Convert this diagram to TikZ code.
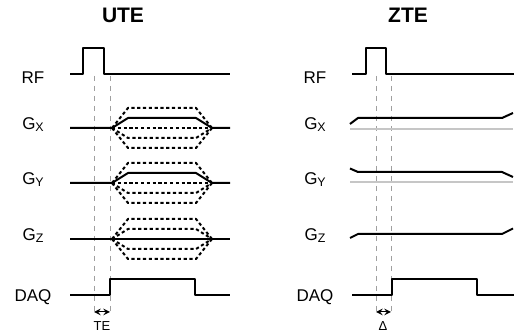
\documentclass[tikz,border=0pt]{standalone}
\usepackage{fontspec}
\setmainfont{Liberation Sans}
\newcommand{\gch}[1]{G\raisebox{-1pt}{\fontsize{6.2}{7}\selectfont #1}}
\begin{document}
\begin{tikzpicture}[x=0.5pt, y=-0.5pt, line join=round, >=stealth,
	wave/.style={line width=1pt},
	alt/.style={line width=1pt, dash pattern=on 1.6pt off 1.3pt},
	guide/.style={gray!75, line width=0.45pt, dash pattern=on 2.5pt off 2.5pt},
	zero/.style={gray!45, line width=0.8pt},
	lbl/.style={font=\fontsize{8.5}{10}\selectfont},
	small/.style={font=\fontsize{6.5}{8}\selectfont},
	ttl/.style={font=\bfseries\fontsize{10.5}{12}\selectfont}]
	\useasboundingbox (0,0) rectangle (520,335);
	% UTE
	\node[ttl] (ute) at (123,15) {UTE};
	\coordinate (u1) at (94,76);
	\coordinate (u2) at (110,76);
	\draw[guide] (u1) -- (94,314);
	\draw[guide] (u2) -- (110,314);
	\node[lbl] (urf) at (33,78) {RF};
	\node[lbl] (ugx) at (33,125) {\gch{X}};
	\node[lbl] (ugy) at (33,180) {\gch{Y}};
	\node[lbl] (ugz) at (33,236) {\gch{Z}};
	\node[lbl] (udaq) at (33,297) {DAQ};
	\draw[wave] (70,74) -- (83,74) -- (83,48) -- (104,48) -- (104,74) -- (230,74);
	\foreach \y in {128,183}{
		\draw[wave] (70,\y) -- (112,\y) -- (128,{\y-10}) -- (196,{\y-10}) -- (212,\y) -- (230,\y);
		\foreach \a in {20,0,-10,-20}
			\draw[alt] (112,\y) -- (128,{\y-\a}) -- (196,{\y-\a}) -- (212,\y);
	}
	\draw[wave] (70,239) -- (230,239);
	\foreach \a in {20,10,-10,-20}
		\draw[alt] (112,239) -- (128,{239-\a}) -- (196,{239-\a}) -- (212,239);
	\draw[wave] (70,295) -- (110,295) -- (110,279) -- (195,279) -- (195,295) -- (230,295);
	\coordinate (ua) at (94,312);
	\coordinate (ub) at (110,312);
	\draw[<->, line width=0.5pt] (ua) -- (ub);
	\node[small] (te) at (102,326) {TE};
	% ZTE
	\node[ttl] (zte) at (408,15) {ZTE};
	\coordinate (z1) at (376,76);
	\coordinate (z2) at (391,76);
	\draw[guide] (z1) -- (376,314);
	\draw[guide] (z2) -- (391,314);
	\node[lbl] (zrf) at (315,78) {RF};
	\node[lbl] (zgx) at (315,125) {\gch{X}};
	\node[lbl] (zgy) at (315,180) {\gch{Y}};
	\node[lbl] (zgz) at (315,236) {\gch{Z}};
	\node[lbl] (zdaq) at (315,297) {DAQ};
	\draw[wave] (352,74) -- (366,74) -- (366,48) -- (386,48) -- (386,74) -- (514,74);
	\draw[zero] (350,129) -- (513,129);
	\draw[zero] (350,182) -- (513,182);
	\draw[wave] (350,124) -- (358,118) -- (502,118) -- (513,113);
	\draw[wave] (350,168.5) -- (358,172) -- (502,172) -- (513,177);
	\draw[wave] (350,238) -- (358,234) -- (502,234) -- (513,228.5);
	\draw[wave] (352,295) -- (392,295) -- (392,279) -- (477,279) -- (477,295) -- (514,295);
	\coordinate (za) at (376,312);
	\coordinate (zb) at (391,312);
	\draw[<->, line width=0.5pt] (za) -- (zb);
	\node[small] (delta) at (383,326) {Δ};
\end{tikzpicture}
\end{document}
